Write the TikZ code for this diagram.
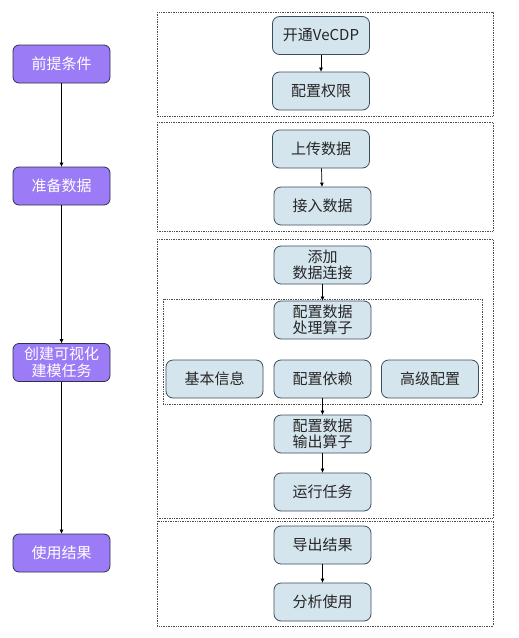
\documentclass[tikz,border=0pt]{standalone}
\usepackage{fontspec}
\setmainfont{Noto Sans CJK SC}
\usetikzlibrary{arrows.meta}
\definecolor{purplefill}{HTML}{9B7BF6}
\definecolor{purpleline}{HTML}{2E3448}
\definecolor{bluefill}{HTML}{D5E5EE}
\definecolor{blueline}{HTML}{3B4D5C}
\begin{document}
\begin{tikzpicture}[x=1pt,y=-1pt,
  phase/.style={draw=purpleline,fill=purplefill,rounded corners=6pt,line width=0.8pt,
    minimum width=97pt,minimum height=38pt,inner sep=0pt,text=white,align=center,
    font=\fontsize{15}{17.5}\selectfont},
  stepbox/.style={draw=blueline,fill=bluefill,rounded corners=7pt,line width=0.8pt,
    minimum width=97pt,minimum height=38pt,inner sep=0pt,text=black!85,align=center,
    font=\fontsize{15}{16.5}\selectfont},
  panel/.style={draw=black!70,densely dotted,line width=0.7pt},
  conn/.style={draw=black,line width=0.7pt,-{Triangle[length=4pt,width=3.5pt]}}]
\useasboundingbox (0,0) rectangle (519,638);
% panels
\draw[panel] (157,12) rectangle (493,116);
\draw[panel] (157,122) rectangle (493,231);
\draw[panel] (157,239) rectangle (493,518);
\draw[panel] (157,521) rectangle (493,626);
\draw[panel] (163,299) rectangle (482,404);
% left phases
\node[phase] (p1) at (61.5,64) {前提条件};
\node[phase] (p2) at (61.5,186) {准备数据};
\node[phase] (p3) at (61.5,362.5) {创建可视化\\建模任务};
\node[phase] (p4) at (61.5,553) {使用结果};
\draw[conn] (p1) -- (p2);
\draw[conn] (p2) -- (p3);
\draw[conn] (p3) -- (p4);
% steps
\node[stepbox] (a1) at (321,35.5) {开通VeCDP};
\node[stepbox] (a2) at (321,91) {配置权限};
\node[stepbox] (b1) at (321,149) {上传数据};
\node[stepbox] (b2) at (322.5,206) {接入数据};
\node[stepbox] (c1) at (322.5,265) {添加\\数据连接};
\node[stepbox] (c2) at (322.5,320) {配置数据\\处理算子};
\node[stepbox] (c3) at (214.5,379) {基本信息};
\node[stepbox] (c4) at (322.5,379) {配置依赖};
\node[stepbox] (c5) at (430,379) {高级配置};
\node[stepbox] (c6) at (322.5,434) {配置数据\\输出算子};
\node[stepbox] (c7) at (322.5,492) {运行任务};
\node[stepbox] (d1) at (322.5,545) {导出结果};
\node[stepbox] (d2) at (322.5,602) {分析使用};
\draw[conn] (a1) -- (a2);
\draw[conn] (b1) -- (b2);
\draw[conn] (c1) -- (c2);
\draw[conn] (c4) -- (c6);
\draw[conn] (c6) -- (c7);
\draw[conn] (d1) -- (d2);
\end{tikzpicture}
\end{document}
